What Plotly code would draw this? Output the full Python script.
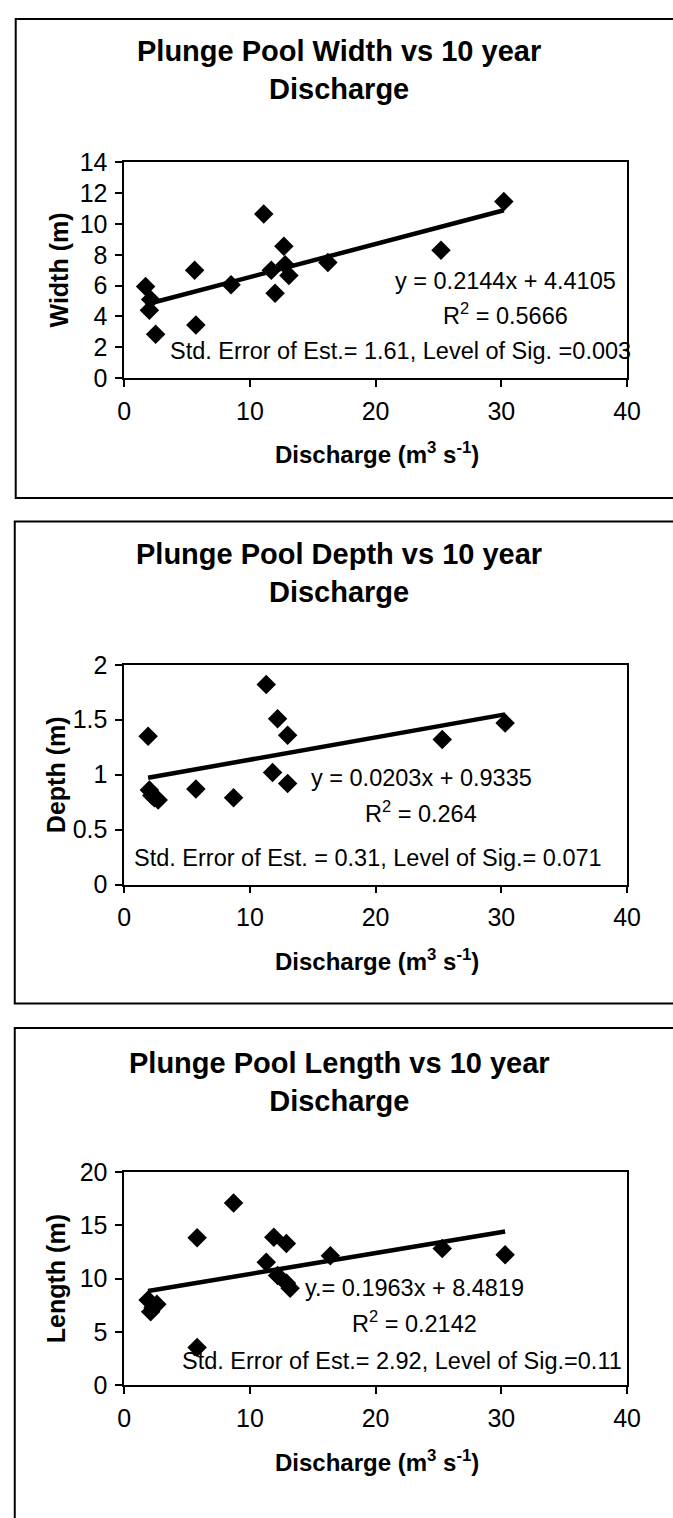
import plotly.graph_objects as go

W, H = 673, 1518
FONT = "Liberation Sans, Arial, sans-serif"

# ---------------- data ----------------
titles = ["Plunge Pool Width vs 10 year<br>Discharge",
          "Plunge Pool Depth vs 10 year<br>Discharge",
          "Plunge Pool Length vs 10 year<br>Discharge"]
y_titles = ["Width (m)", "Depth (m)", "Length (m)"]
x_title = "Discharge (m<sup>3</sup> s<sup>-1</sup>)"

width_q = [1.7, 2.1, 2.0, 2.5, 5.6, 5.7, 8.5, 11.1, 11.7, 12.0, 12.7, 12.8, 13.1, 16.2, 25.2, 30.2]
width_m = [5.95, 5.1, 4.4, 2.85, 7.0, 3.45, 6.05, 10.65, 7.0, 5.5, 8.55, 7.35, 6.65, 7.5, 8.3, 11.45]

depth_q = [1.9, 2.0, 2.2, 2.4, 2.7, 5.7, 8.7, 11.3, 11.8, 12.2, 13.0, 13.0, 25.3, 30.3]
depth_m = [1.35, 0.86, 0.81, 0.79, 0.77, 0.87, 0.79, 1.82, 1.02, 1.51, 1.36, 0.92, 1.32, 1.47]

length_q = [1.9, 2.1, 2.3, 2.6, 5.8, 5.8, 8.7, 11.3, 11.9, 12.2, 12.9, 12.9, 13.2, 16.4, 25.3, 30.3]
length_m = [8.0, 6.9, 7.3, 7.6, 13.85, 3.55, 17.1, 11.55, 13.9, 10.3, 13.3, 9.6, 9.1, 12.15, 12.85, 12.25]

slopes = [0.2144, 0.0203, 0.1963]
intercepts = [4.4105, 0.9335, 8.4819]

eq_texts = ["y = 0.2144x + 4.4105", "y = 0.0203x + 0.9335", "y.= 0.1963x + 8.4819"]
r2_texts = ["R<sup>2</sup> = 0.5666", "R<sup>2</sup> = 0.264", "R<sup>2</sup> = 0.2142"]
stat_texts = ["Std. Error of Est.= 1.61, Level of Sig. =0.003",
              "Std. Error of Est. = 0.31, Level of Sig.= 0.071",
              "Std. Error of Est.= 2.92, Level of Sig.=0.11"]

x_ticks = [0, 10, 20, 30, 40]
y_ticks = [[0, 2, 4, 6, 8, 10, 12, 14],
           [0, 0.5, 1, 1.5, 2],
           [0, 5, 10, 15, 20]]
y_ranges = [[0, 14], [0, 2], [0, 20]]

series = [(width_q, width_m), (depth_q, depth_m), (length_q, length_m)]

# ---------------- layout geometry (pixels) ----------------
plot_left, plot_right = 121, 640
plot_tops = [151, 663, 1180]
plot_bottoms = [371, 887, 1397]
title_y = [57, 570, 1088]
title_x = 343
xtitle_y = [447, 964, 1474]
xtitle_x = 382
ytitle_x = [54, 50, 50]
panel_boxes = [(9, 5, 690, 493), (8, 517, 690, 1008), (8, 1033, 690, 1540)]
eq_pos = [(0.759, 0.45), (0.592, 0.487), (0.578, 0.456)]
r2_pos = [(0.759, 0.295), (0.590, 0.33), (0.578, 0.295)]
stat_pos = [(0.549, 0.127), (0.484, 0.12), (0.553, 0.115)]


def px(x):
    return x / W


def py(y):
    return 1 - y / H


fig = go.Figure()
layout = dict(
    width=W, height=H, margin=dict(l=0, r=0, t=0, b=0),
    paper_bgcolor="white", plot_bgcolor="white",
    showlegend=False, font=dict(family=FONT, color="black"),
)
annotations = []
shapes = []

for i, (qx, vy) in enumerate(series):
    n = "" if i == 0 else str(i + 1)
    xa, ya = "x" + n, "y" + n
    fig.add_trace(go.Scatter(
        x=qx, y=vy, mode="markers", xaxis=xa, yaxis=ya,
        marker=dict(symbol="diamond", size=15, color="black"),
    ))
    x0, x1 = min(qx), max(qx)
    fig.add_trace(go.Scatter(
        x=[x0, x1], y=[slopes[i] * x0 + intercepts[i], slopes[i] * x1 + intercepts[i]],
        mode="lines", xaxis=xa, yaxis=ya,
        line=dict(color="black", width=4.5),
    ))
    layout["xaxis" + n] = dict(
        domain=[px(plot_left), px(plot_right)], anchor=ya, range=[0, 40],
        tickvals=x_ticks, ticks="outside", ticklen=7, tickwidth=1.5, tickcolor="black",
        showline=True, linecolor="black", linewidth=1.5, mirror=True,
        showgrid=False, zeroline=False, ticklabelstandoff=3,
        tickfont=dict(family=FONT, size=25, color="black"),
    )
    layout["yaxis" + n] = dict(
        domain=[py(plot_bottoms[i]), py(plot_tops[i])], anchor=xa, range=y_ranges[i],
        tickvals=y_ticks[i], ticks="outside", ticklen=7, tickwidth=1.5, tickcolor="black",
        showline=True, linecolor="black", linewidth=1.5, mirror=True,
        showgrid=False, zeroline=False, ticklabelstandoff=3,
        tickfont=dict(family=FONT, size=25, color="black"),
    )
    annotations.append(dict(
        text="<b>" + titles[i] + "</b>", x=px(title_x), y=py(title_y[i]),
        xref="paper", yref="paper", showarrow=False, xanchor="center", yanchor="middle",
        font=dict(family=FONT, size=29, color="black"),
    ))
    annotations.append(dict(
        text="<b>" + x_title + "</b>", x=px(xtitle_x), y=py(xtitle_y[i]),
        xref="paper", yref="paper", showarrow=False, xanchor="center", yanchor="middle",
        font=dict(family=FONT, size=24, color="black"),
    ))
    annotations.append(dict(
        text="<b>" + y_titles[i] + "</b>", x=px(ytitle_x[i]),
        y=py((plot_tops[i] + plot_bottoms[i]) / 2),
        xref="paper", yref="paper", showarrow=False, textangle=-90,
        xanchor="center", yanchor="middle",
        font=dict(family=FONT, size=25, color="black"),
    ))
    for txt, (ax, ay) in ((eq_texts[i], eq_pos[i]), (r2_texts[i], r2_pos[i]), (stat_texts[i], stat_pos[i])):
        annotations.append(dict(
            text=txt, x=ax, y=ay, xref=xa + " domain", yref=ya + " domain",
            showarrow=False, xanchor="center", yanchor="middle",
            font=dict(family=FONT, size=23.5, color="black"),
        ))
    bx0, by0, bx1, by1 = panel_boxes[i]
    shapes.append(dict(
        type="rect", xref="paper", yref="paper",
        x0=px(bx0), x1=px(bx1), y0=py(by1), y1=py(by0),
        line=dict(color="black", width=2), fillcolor="rgba(0,0,0,0)",
    ))

layout["annotations"] = annotations
layout["shapes"] = shapes
fig.update_layout(**layout)
fig.write_html(
    "out.html",
    config={"displayModeBar": False},
    post_script="document.body.style.margin='0';document.body.style.overflow='hidden';",
)
